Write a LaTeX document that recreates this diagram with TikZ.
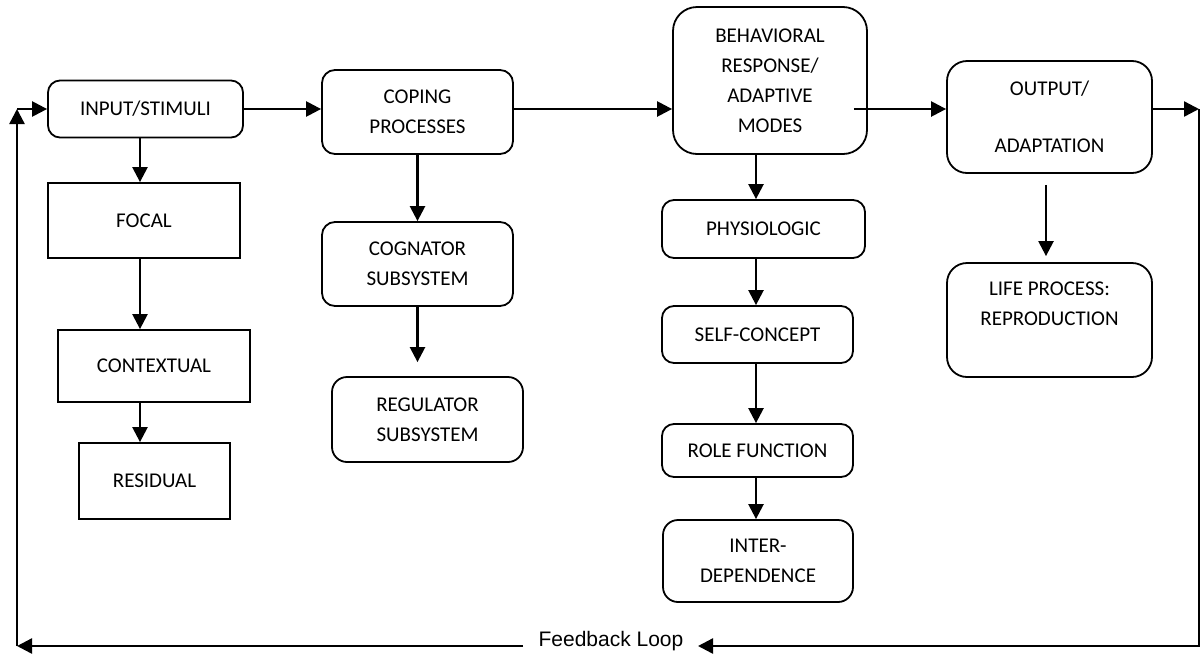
\documentclass[tikz,border=0pt]{standalone}
\usepackage{fontspec}
\setmainfont{Carlito}
\newfontfamily\arialfont{Liberation Sans}
\usetikzlibrary{arrows.meta,calc}
\begin{document}
\begin{tikzpicture}[x=1pt,y=-1pt,
  box/.style={draw=black,line width=1.8pt,inner sep=0pt,align=center,font=\fontsize{21}{30}\selectfont},
  rbox/.style={box,rounded corners=13pt},
  conn/.style={line width=2.4pt,-{Triangle[length=15pt,width=15pt]}}]
\useasboundingbox (0,0) rectangle (1200,654);
% left column
\node[rbox,minimum width=195pt,minimum height=57pt,rounded corners=12pt] (inp) at (145.5,109) {INPUT/STIMULI};
\node[box,minimum width=192pt,minimum height=75pt] (foc) at (144,220.5) {FOCAL};
\node[box,minimum width=192pt,minimum height=72pt] (ctx) at (154,366) {CONTEXTUAL};
\node[box,minimum width=151pt,minimum height=76pt] (res) at (154.5,481) {RESIDUAL};
% coping column
\node[rbox,minimum width=191pt,minimum height=84pt] (cop) at (417.5,112) {COPING\\PROCESSES};
\node[rbox,minimum width=191pt,minimum height=84pt] (cog) at (417.5,264) {COGNATOR\\SUBSYSTEM};
\node[rbox,minimum width=191pt,minimum height=85pt,rounded corners=15pt] (reg) at (427.5,419.5) {REGULATOR\\SUBSYSTEM};
% behavioral column
\node[rbox,minimum width=194pt,minimum height=147pt,rounded corners=24pt] (beh) at (770,80.5) {BEHAVIORAL\\RESPONSE/\\ADAPTIVE\\MODES};
\node[rbox,minimum width=203pt,minimum height=58pt,rounded corners=12pt] (phy) at (763.5,229) {PHYSIOLOGIC};
\node[rbox,minimum width=191pt,minimum height=57pt,rounded corners=12pt] (self) at (757.5,334.5) {SELF-CONCEPT};
\node[rbox,minimum width=191pt,minimum height=53pt,rounded corners=12pt] (role) at (757.5,450.5) {ROLE FUNCTION};
\node[rbox,minimum width=190pt,minimum height=82pt,rounded corners=15pt] (inter) at (758,561) {INTER-\\DEPENDENCE};
% output column
\node[rbox,minimum width=205pt,minimum height=112pt,rounded corners=20pt] (out) at (1049.5,117) {OUTPUT/\\[27pt]ADAPTATION};
\node[rbox,minimum width=205pt,minimum height=114pt,rounded corners=20pt] (life) at (1049.5,320) {LIFE PROCESS:\\REPRODUCTION\\[-6pt]\strut};
% feedback label
\node[font=\arialfont\fontsize{21}{25}\selectfont,anchor=base,inner sep=0pt] (fb) at (611,646) {Feedback Loop};
% helper coordinates
\coordinate (cxa) at (140,0);
\coordinate (cxb) at (756,0);
\coordinate (cxc) at (1046,0);
\coordinate (rt) at (1199,109);
\coordinate (fbr) at (698,646);
\coordinate (fbl) at (523,646);
\coordinate (bl) at (17,646);
\coordinate (tl) at (17,109);
% horizontal main flow
\draw[conn] (inp.east) -- (inp.east -| cop.west);
\draw[conn] (cop.east |- inp.east) -- (beh.west |- inp.east);
\draw[conn] ([xshift=-14pt]beh.east |- inp.east) -- (out.west |- inp.east);
\draw[conn] (out.east |- inp.east) -- (rt);
% left column arrows
\draw[conn] (inp.south -| cxa) -- (foc.north -| cxa);
\draw[conn] (foc.south -| cxa) -- (ctx.north -| cxa);
\draw[conn] (ctx.south -| cxa) -- (res.north -| cxa);
% coping column arrows
\draw[conn] (cop.south) -- (cog.north);
\draw[conn] (cog.south) -- ([yshift=14pt]reg.north -| cog.south);
% behavioral column arrows
\draw[conn] (beh.south -| cxb) -- (phy.north -| cxb);
\draw[conn] (phy.south -| cxb) -- (self.north -| cxb);
\draw[conn] (self.south -| cxb) -- (role.north -| cxb);
\draw[conn] (role.south -| cxb) -- (inter.north -| cxb);
% output arrow
\draw[conn] ([yshift=-11pt]out.south -| cxc) -- ([yshift=6pt]life.north -| cxc);
% feedback loop
\draw[conn] (rt) |- (fbr);
\draw[conn] (fbl) -- (bl);
\draw[conn] (bl) -- (tl);
\draw[conn] (tl) -- (inp.west);
\end{tikzpicture}
\end{document}
